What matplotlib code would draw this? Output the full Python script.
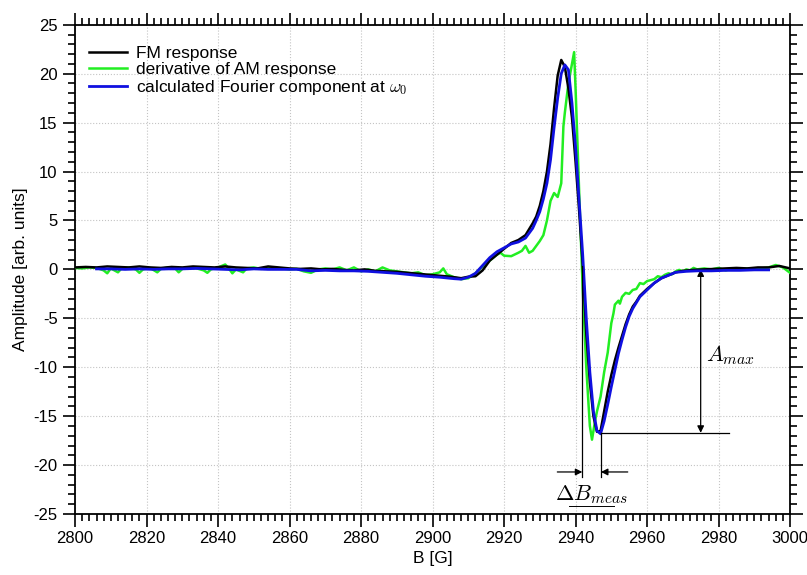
import matplotlib
matplotlib.use("Agg")
import matplotlib.pyplot as plt
from matplotlib.ticker import MultipleLocator

plt.rcParams["font.family"] = ["Liberation Sans", "DejaVu Sans"]
plt.rcParams["mathtext.fontset"] = "cm"
plt.rcParams["axes.unicode_minus"] = False

# FM response (black)
B_FM = [2800, 2803, 2806, 2809, 2812, 2815, 2818, 2821, 2824, 2827, 2830, 2833,
        2836, 2839, 2842, 2845, 2848, 2851, 2854, 2857, 2860, 2863, 2866, 2869,
        2872, 2875, 2878, 2881, 2884, 2887, 2890, 2893, 2896, 2899, 2902, 2905,
        2908, 2910, 2912, 2914, 2916, 2918, 2920, 2922, 2924, 2926, 2927, 2928,
        2929, 2930, 2931, 2932, 2933, 2934, 2935, 2936, 2937, 2938, 2939, 2940,
        2941, 2942, 2943, 2944, 2945, 2946, 2947, 2948, 2949, 2950, 2951, 2952,
        2953, 2954, 2955, 2956, 2957, 2958, 2960, 2962, 2964, 2966, 2968, 2970,
        2973, 2976, 2979, 2982, 2985, 2988, 2991, 2994, 2997, 3000]
A_FM = [0.2, 0.25, 0.2, 0.3, 0.25, 0.2, 0.3, 0.2, 0.15, 0.25, 0.2, 0.3,
        0.25, 0.2, 0.3, 0.2, 0.15, 0.1, 0.3, 0.2, 0.1, 0.05, 0.1, 0.0,
        0.05, -0.05, -0.1, 0.0, -0.15, -0.2, -0.25, -0.35, -0.45, -0.55, -0.65, -0.75,
        -0.9, -0.75, -0.7, -0.1, 0.9, 1.5, 2.1, 2.7, 3.0, 3.5, 4.1, 4.7,
        5.4, 6.5, 8.0, 10.0, 12.8, 16.5, 19.8, 21.4, 20.7, 18.5, 15.5, 11.0,
        6.0, 0.5, -6.5, -11.5, -15.0, -16.6, -16.5, -14.5, -12.5, -10.8, -9.3, -8.0,
        -6.8, -5.6, -4.6, -3.8, -3.3, -2.7, -2.0, -1.4, -0.9, -0.6, -0.3, -0.15,
        -0.05, 0.0, 0.05, 0.1, 0.15, 0.1, 0.2, 0.2, 0.35, 0.1]

# derivative of AM response (green)
B_AM = [2800, 2802, 2804, 2806, 2808, 2809, 2810, 2812, 2813, 2815, 2817, 2818,
        2819, 2821, 2823, 2824, 2826, 2828, 2829, 2830, 2832, 2834, 2836, 2837,
        2838, 2840, 2842, 2843, 2844, 2845, 2847, 2848, 2850, 2852, 2854, 2856,
        2858, 2860, 2862, 2864, 2866, 2868, 2870, 2872, 2874, 2876, 2878, 2880,
        2882, 2884, 2886, 2888, 2890, 2892, 2894, 2896, 2898, 2900, 2902, 2903,
        2904, 2906, 2908, 2910, 2912, 2914, 2916, 2918, 2919, 2920, 2922, 2924,
        2925, 2926, 2927, 2928, 2930, 2931, 2932, 2933, 2934, 2935, 2936, 2936.6,
        2937, 2938, 2939, 2939.6, 2940, 2941, 2942, 2943, 2944, 2944.6, 2945, 2945.5,
        2946, 2947, 2948, 2949, 2950, 2950.6, 2951, 2952, 2952.4, 2953, 2954, 2955,
        2956, 2957, 2958, 2959, 2960, 2962, 2963, 2964, 2965, 2966, 2967, 2968,
        2969, 2970, 2971, 2972, 2973, 2974, 2976, 2978, 2980, 2982, 2984, 2986,
        2988, 2990, 2992, 2994, 2996, 2998, 3000]
A_AM = [0.15, 0.1, 0.2, 0.15, -0.1, -0.4, 0.1, -0.3, 0.1, 0.2, 0.0, -0.35,
        0.0, 0.15, -0.3, 0.05, 0.2, 0.1, -0.3, 0.05, 0.2, 0.1, -0.1, -0.35,
        0.0, 0.2, 0.5, 0.1, -0.4, 0.0, -0.3, 0.1, 0.2, 0.05, 0.2, 0.15,
        0.1, 0.0, 0.05, -0.2, -0.35, 0.0, 0.1, 0.0, 0.2, -0.1, 0.2, -0.2,
        0.0, -0.2, 0.2, -0.1, -0.2, -0.3, -0.4, -0.3, -0.6, -0.5, -0.3, 0.1,
        -0.5, -0.8, -1.0, -0.9, -0.4, 0.3, 0.9, 1.5, 1.7, 1.4, 1.35, 1.7,
        1.9, 2.4, 1.7, 1.9, 2.9, 3.5, 5.0, 7.0, 7.8, 7.4, 8.8, 14.6,
        16.0, 19.0, 21.0, 22.2, 18.5, 8.0, -2.0, -10.0, -16.0, -17.4, -16.5, -15.4,
        -14.5, -13.0, -10.5, -8.5, -5.5, -4.5, -3.6, -3.2, -3.5, -2.8, -2.4, -2.5,
        -2.1, -2.0, -1.4, -1.5, -1.2, -1.0, -0.7, -0.8, -0.55, -0.4, -0.5, -0.2,
        -0.05, -0.2, 0.0, -0.1, 0.15, 0.0, 0.1, 0.0, 0.15, -0.1, 0.1, 0.05,
        0.1, 0.05, 0.1, 0.2, 0.45, 0.2, -0.35]

# calculated Fourier component (blue)
B_FC = [2806, 2810, 2814, 2818, 2822, 2826, 2830, 2834, 2838, 2842, 2846, 2850,
        2854, 2858, 2862, 2866, 2870, 2874, 2878, 2882, 2886, 2890, 2894, 2898,
        2902, 2906, 2908, 2910, 2912, 2914, 2916, 2918, 2920, 2922, 2924, 2926,
        2927, 2928, 2929, 2930, 2931, 2932, 2933, 2934, 2935, 2936, 2937, 2938,
        2939, 2940, 2941, 2942, 2943, 2944, 2945, 2946, 2947, 2948, 2949, 2950,
        2951, 2952, 2953, 2954, 2955, 2956, 2957, 2958, 2960, 2962, 2964, 2966,
        2968, 2971, 2974, 2978, 2982, 2986, 2990, 2994]
A_FC = [0.05, 0.05, 0.0, 0.05, 0.0, 0.05, 0.05, 0.1, 0.05, 0.0, -0.05, 0.05,
        0.0, 0.0, 0.0, -0.15, -0.1, -0.15, -0.15, -0.2, -0.3, -0.4, -0.55, -0.7,
        -0.8, -0.95, -1.0, -0.8, -0.4, 0.4, 1.2, 1.8, 2.2, 2.6, 2.8, 3.2,
        3.7, 4.2, 5.0, 5.9, 7.2, 8.8, 11.2, 14.5, 17.5, 20.0, 20.9, 20.4,
        17.0, 12.5, 7.0, 1.5, -5.0, -10.5, -14.5, -16.5, -16.8, -15.5, -13.8, -12.0,
        -10.3, -8.6, -7.2, -5.9, -4.8, -4.0, -3.4, -2.8, -2.1, -1.4, -0.9, -0.6,
        -0.3, -0.2, -0.15, -0.15, -0.1, -0.1, -0.05, -0.05]

B_CROSS = 2941.9   # zero crossing
B_MIN = 2947.1     # position of the minimum
A_MIN = -16.7
B_ARROW = 2975

fig = plt.figure(figsize=(8.07, 5.75), dpi=100)
ax = fig.add_axes([0.093, 0.106, 0.886, 0.851])

ax.plot(B_AM, A_AM, color="#22ee22", lw=1.8, label="derivative of AM response", zorder=3)
ax.plot(B_FM, A_FM, color="black", lw=1.8, label="FM response", zorder=4)
ax.plot(B_FC, A_FC, color="#1010e0", lw=2.0,
        label=r"calculated Fourier component at $\omega_0$", zorder=5)

# annotation lines
ax.plot([B_CROSS, B_CROSS], [0.3, -21.2], color="black", lw=0.9, zorder=6)
ax.plot([B_MIN, B_MIN], [A_MIN, -21.2], color="black", lw=0.9, zorder=6)
ax.plot([B_MIN, 2983], [A_MIN, A_MIN], color="black", lw=0.9, zorder=6)
ax.annotate("", xy=(B_ARROW, 0.0), xytext=(B_ARROW, A_MIN),
            arrowprops=dict(arrowstyle="<|-|>", color="black", lw=0.9,
                            mutation_scale=10, shrinkA=0, shrinkB=0))
ax.annotate("", xy=(B_CROSS, -20.7), xytext=(B_CROSS - 7, -20.7),
            arrowprops=dict(arrowstyle="-|>", color="black", lw=0.9,
                            mutation_scale=10, shrinkA=0, shrinkB=0))
ax.annotate("", xy=(B_MIN, -20.7), xytext=(B_MIN + 7.5, -20.7),
            arrowprops=dict(arrowstyle="-|>", color="black", lw=0.9,
                            mutation_scale=10, shrinkA=0, shrinkB=0))
ax.text(2976.5, -8.8, r"$A_{max}$", fontsize=16, ha="left", va="center")
ax.text(2944.5, -23.0, r"$\Delta B_{meas}$", fontsize=16, ha="center", va="center")
ax.plot([2938.2, 2950.8], [-24.2, -24.2], color="black", lw=0.7, zorder=6)

ax.set_xlim(2800, 3000)
ax.set_ylim(-25, 25)
ax.xaxis.set_major_locator(MultipleLocator(20))
ax.xaxis.set_minor_locator(MultipleLocator(2))
ax.yaxis.set_major_locator(MultipleLocator(5))
ax.yaxis.set_minor_locator(MultipleLocator(1))
ax.tick_params(which="both", direction="out", top=True, right=True,
               labeltop=False, labelright=False, width=1.2, labelsize=12)
ax.tick_params(which="major", length=9)
ax.tick_params(which="minor", length=5)
for s in ax.spines.values():
    s.set_linewidth(1.3)
ax.grid(True, which="major", linestyle=":", color="#c4c4c4", lw=0.8)
ax.set_axisbelow(True)

ax.set_xlabel("B [G]", fontsize=12.5, labelpad=3)
ax.set_ylabel("Amplitude [arb. units]", fontsize=12.5, labelpad=4)

h, l = ax.get_legend_handles_labels()
order = [1, 0, 2]
ax.legend([h[i] for i in order], [l[i] for i in order], loc="upper left",
          frameon=False, fontsize=12.5, handlelength=2.2, handletextpad=0.5,
          labelspacing=0.05, borderaxespad=0.4, bbox_to_anchor=(0.0, 0.985))

fig.savefig("out.png", dpi=100)
